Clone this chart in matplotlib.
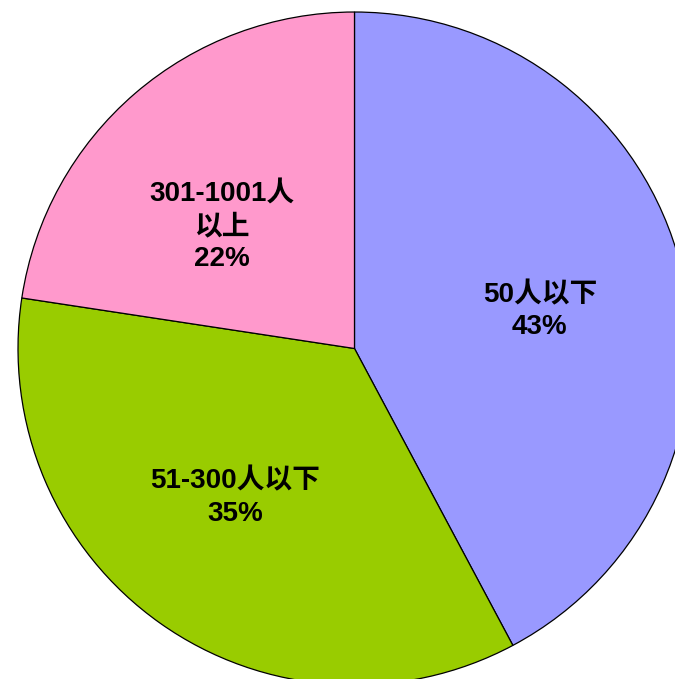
import matplotlib
matplotlib.use("Agg")
import matplotlib.pyplot as plt

plt.rcParams['font.family'] = ['Liberation Sans', 'Noto Sans CJK SC', 'DejaVu Sans']

categories = ["50人以下", "51-300人以下", "301-1001人\n以上"]
values = [42.2, 35.2, 22.6]
pct_labels = ["43%", "35%", "22%"]
colors = ["#9999FF", "#99CC00", "#FF99CC"]
# where each label block sits, in pie-radius units
label_pos = [(0.551, 0.111), (-0.355, -0.444), (-0.394, 0.361)]

fig = plt.figure(figsize=(6.75, 6.79), dpi=100)
ax = fig.add_axes([0, 0, 1, 1])

labels = [c + "\n" + p for c, p in zip(categories, pct_labels)]
wedges, texts = ax.pie(values, labels=labels, colors=colors, startangle=90,
                       counterclock=False, radius=1, center=(0, 0),
                       labeldistance=0.56,
                       wedgeprops=dict(edgecolor="black", linewidth=0.9),
                       textprops=dict(fontsize=20, color="black", fontweight="bold"))
for t, pos in zip(texts, label_pos):
    t.set_position(pos)
    t.set_horizontalalignment("center")
    t.set_verticalalignment("center")
    t.set_multialignment("center")
    t.set_linespacing(1.32)

ax.set_aspect("auto")
ax.set_xlim(-1.0535, 0.9525)
ax.set_ylim(-0.9822, 1.0357)
ax.axis("off")

fig.savefig("out.png", dpi=100)
